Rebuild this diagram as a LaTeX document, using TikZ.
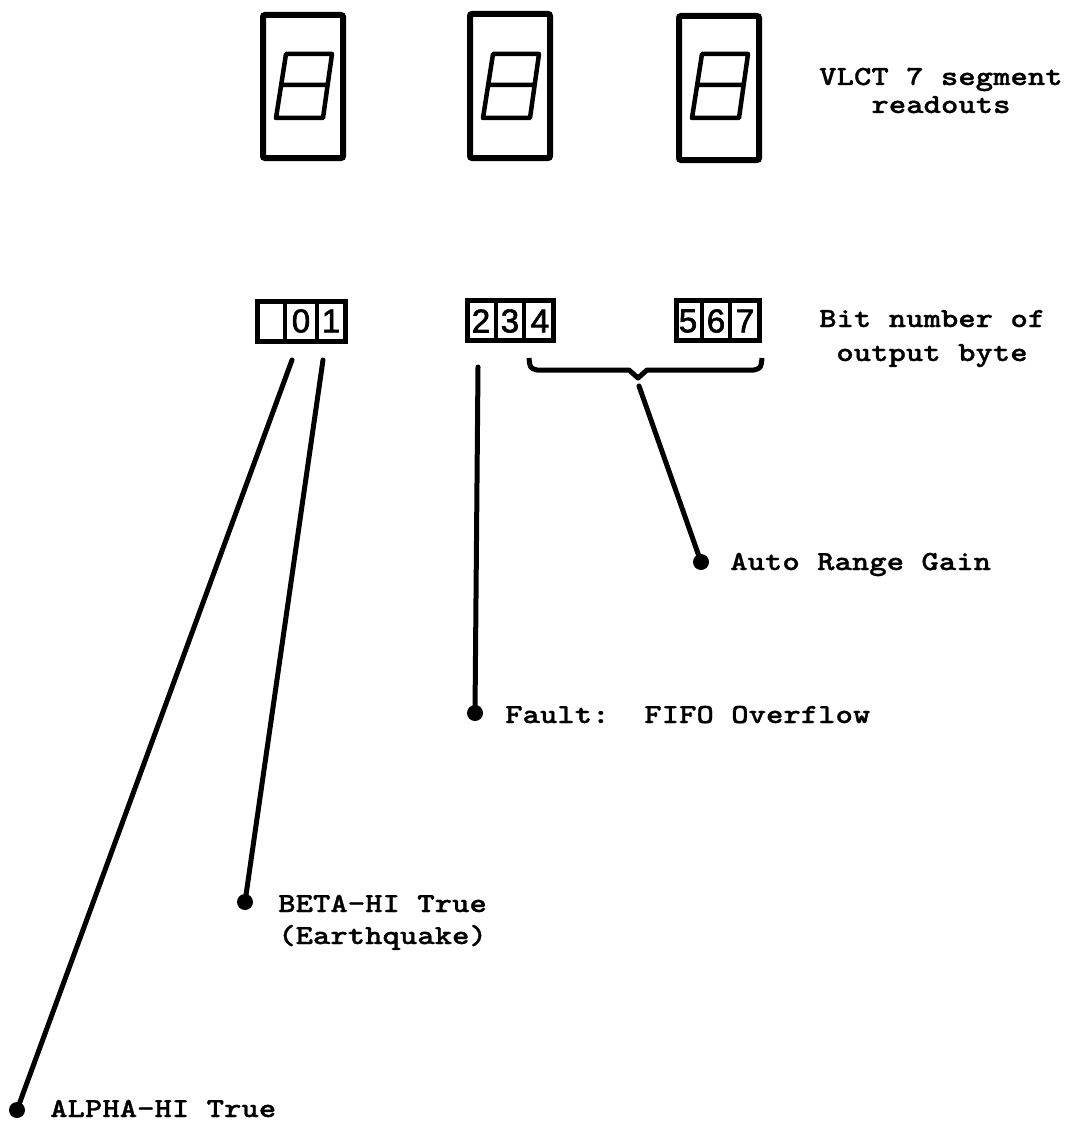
\documentclass[tikz,border=0pt]{standalone}
\usepackage{fontspec}
\newfontfamily\tw{lmmonolt10-bold.otf}[FakeStretch=1.2,FakeBold=1]
\newfontfamily\digitfont{Liberation Sans}[FakeBold=2]
\begin{document}
\begin{tikzpicture}[x=1pt,y=-1pt,
  readout/.style={line width=6pt, rounded corners=2pt},
  segline/.style={line width=4.5pt, line join=round},
  bitcells/.style={line width=5pt},
  divider/.style={line width=3.5pt},
  lead/.style={line width=5pt, line cap=round},
  dotn/.style={circle, fill=black, inner sep=0pt, minimum size=16pt},
  lbl/.style={anchor=base west, inner sep=0pt, font=\tw\fontsize{27.6}{27.6}\selectfont},
  digit/.style={inner sep=0pt, font=\digitfont\fontsize{33}{33}\selectfont}
]
\useasboundingbox (0,0) rectangle (1067,1121);
% seven segment readouts
\foreach \c/\t/\b in {303/15/158, 510/14/158, 719/16/160}{
  \draw[readout] (\c-40,\t) rectangle (\c+40,\b);
  \draw[segline] (\c-17,54) -- (\c+29,54) -- (\c+20,118) -- (\c-27,118) -- cycle
             (\c-22,85) -- (\c+24.5,85);
}
% bit cells
\draw[bitcells] (257.5,301) rectangle (345,341);
\draw[divider] (285,301) -- (285,341) (317,301) -- (317,341);
\draw[bitcells] (467.5,300.5) rectangle (553.5,340.5);
\draw[divider] (496,300.5) -- (496,340.5) (524,300.5) -- (524,340.5);
\draw[bitcells] (676.5,300.5) rectangle (759.5,340.5);
\draw[divider] (702,300.5) -- (702,340.5) (730,300.5) -- (730,340.5);
\node[digit] (b0) at (301,321) {0};
\node[digit] (b1) at (331,321) {1};
\node[digit] (b2) at (481,321) {2};
\node[digit] (b3) at (510,321) {3};
\node[digit] (b4) at (540,321) {4};
\node[digit] (b5) at (688,321) {5};
\node[digit] (b6) at (716,321) {6};
\node[digit] (b7) at (745,321) {7};
% brace
\draw[line width=5pt, line join=round] (529,358) .. controls (530,368) .. (537,370) -- (629,370) -- (638,378) -- (647,370) -- (754,370) .. controls (761,368) .. (762,358);
% labels
\node[lbl] (vlct) at (819,85) {VLCT 7 segment};
\node[lbl, anchor=base] (readouts) at (941,113) {readouts};
\node[lbl] (bitnum) at (819,327) {Bit number of};
\node[lbl, anchor=base] (outbyte) at (932,361) {output byte};
\node[lbl] (auto) at (730,570) {Auto Range Gain};
\node[lbl] (fault) at (505,723) {Fault:\ \ FIFO Overflow};
\node[lbl] (beta) at (278,912) {BETA-HI True};
\node[lbl] (quake) at (278,944) {(Earthquake)};
\node[lbl] (alpha) at (50,1117) {ALPHA-HI True};
% dots and leads
\node[dotn] (da) at (17,1110) {};
\node[dotn] (db) at (245,902) {};
\node[dotn] (df) at (475,713) {};
\node[dotn] (dg) at (701,562) {};
\coordinate (sa) at (292,360);
\coordinate (sb) at (323,360);
\coordinate (sf) at (478,367);
\coordinate (sg) at (639,386);
\draw[lead] (sa) -- (da.center);
\draw[lead] (sb) -- (db.center);
\draw[lead] (sf) -- (df.center);
\draw[lead] (sg) -- (dg.center);
\end{tikzpicture}
\end{document}
